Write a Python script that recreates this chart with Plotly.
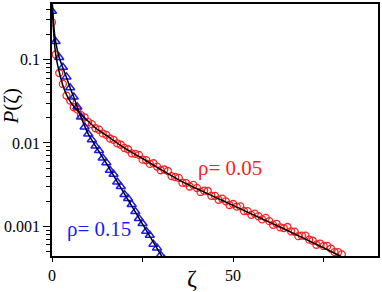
import plotly.graph_objects as go

# --- data ---
zeta_red = list(range(0, 81))
p_red = [0.28, 0.115, 0.069, 0.051, 0.037, 0.0322, 0.0268, 0.0251, 0.0216, 0.0203,
         0.0178, 0.0168, 0.0150, 0.0144, 0.0130, 0.0125, 0.0113, 0.0109, 0.0099, 0.0095,
         0.0087, 0.0084, 0.0075, 0.0074, 0.0072, 0.0063, 0.0062, 0.0056, 0.0057, 0.0052,
         0.0047, 0.0048, 0.0046, 0.0040, 0.0039, 0.0038, 0.00333, 0.0033, 0.0030, 0.00313,
         0.00288, 0.00258, 0.00267, 0.00265, 0.00232, 0.00231, 0.00208, 0.00214, 0.00199, 0.00180,
         0.00185, 0.00172, 0.00173, 0.00152, 0.00152, 0.00137, 0.00142, 0.00132, 0.00121, 0.00126,
         0.00115, 0.00104, 0.00107, 0.00097, 0.00095, 0.00098, 0.00087, 0.00086, 0.00076, 0.00077,
         0.00077, 0.00069, 0.00067, 0.00060, 0.00062, 0.00058, 0.00058, 0.00054, 0.00049, 0.00049,
         0.00046]

zeta_blue = list(range(0, 32))
p_blue = [0.38, 0.165, 0.106, 0.081, 0.062, 0.046, 0.0355, 0.027, 0.0205, 0.0155,
          0.0128, 0.0109, 0.0092, 0.0081, 0.0066, 0.0058, 0.0047, 0.0042, 0.0034, 0.0030,
          0.0024, 0.00215, 0.00182, 0.00150, 0.00124, 0.00108, 0.00087, 0.00078, 0.00061, 0.00055,
          0.00045, 0.00040]

fit_red_x = [0, 0.5, 1, 1.5, 2, 3, 4, 5, 6, 8, 10, 12, 15, 20, 25, 30, 35, 40, 45, 50,
             55, 60, 65, 70, 75, 80, 82]
fit_red_y = [0.50, 0.20, 0.118, 0.088, 0.071, 0.049, 0.038, 0.0316, 0.0275, 0.0219,
             0.0182, 0.0151, 0.0123, 0.0087, 0.0065, 0.0048, 0.0036, 0.00282, 0.00224, 0.00178,
             0.00141, 0.00112, 0.00089, 0.00070, 0.00055, 0.00043, 0.00039]

fit_blue_x = [0, 0.5, 1, 2, 3, 4, 5, 6, 7, 8, 9, 10, 12, 15, 20, 25, 30, 32]
fit_blue_y = [0.55, 0.25, 0.165, 0.105, 0.080, 0.061, 0.046, 0.0355, 0.027, 0.0205,
              0.0160, 0.0128, 0.0092, 0.0057, 0.00245, 0.00106, 0.00046, 0.00033]

y_tick_vals = [0.001, 0.01, 0.1]
y_tick_text = ["0.001", "0.01", "0.1"]
y_minor_vals = [0.0005, 0.0006, 0.0007, 0.0008, 0.0009,
                0.002, 0.003, 0.004, 0.005, 0.006, 0.007, 0.008, 0.009,
                0.02, 0.03, 0.04, 0.05, 0.06, 0.07, 0.08, 0.09,
                0.2, 0.3, 0.4]
x_tick_vals = [0, 50]
x_tick_text = ["0", "50"]
x_minor_vals = [25, 75]

label_red = "ρ= 0.05"
label_blue = "ρ= 0.15"

SERIF = "Liberation Serif"

fig = go.Figure()
fig.add_trace(go.Scatter(x=zeta_red, y=p_red, mode="markers",
                         marker=dict(symbol="circle-open", size=7, color="#ff2020",
                                     line=dict(width=1.3, color="#ff2020")),
                         showlegend=False))
fig.add_trace(go.Scatter(x=zeta_blue, y=p_blue, mode="markers",
                         marker=dict(symbol="triangle-up-open", size=8, color="#1a1aff",
                                     line=dict(width=1.5, color="#1a1aff")),
                         showlegend=False))
fig.add_trace(go.Scatter(x=fit_red_x, y=fit_red_y, mode="lines",
                         line=dict(color="black", width=1.5, shape="spline", smoothing=0.6),
                         showlegend=False))
fig.add_trace(go.Scatter(x=fit_blue_x, y=fit_blue_y, mode="lines",
                         line=dict(color="black", width=1.5, shape="spline", smoothing=0.6),
                         showlegend=False))

fig.update_layout(
    width=382, height=292,
    margin=dict(l=52, r=2, t=2, b=36),
    paper_bgcolor="white", plot_bgcolor="white",
    font=dict(family=SERIF, size=16, color="black"),
    xaxis=dict(range=[0, 90], showgrid=False, zeroline=False,
               showline=True, linecolor="black", linewidth=1.5, mirror=True,
               tickmode="array", tickvals=x_tick_vals, ticktext=x_tick_text,
               ticks="outside", ticklen=4, tickwidth=1, tickcolor="black",
               minor=dict(tickmode="array", tickvals=x_minor_vals, ticks="outside",
                          ticklen=4, tickwidth=1, tickcolor="black", showgrid=False),
               tickfont=dict(family=SERIF, size=16)),
    yaxis=dict(type="log", range=[-3.357, -0.333], showgrid=False, zeroline=False,
               showline=True, linecolor="black", linewidth=1.5, mirror=True,
               tickmode="array", tickvals=y_tick_vals, ticktext=y_tick_text,
               ticks="outside", ticklen=7, tickwidth=1, tickcolor="black",
               minor=dict(tickmode="array", tickvals=y_minor_vals, ticks="outside",
                          ticklen=4, tickwidth=1, tickcolor="black", showgrid=False),
               tickfont=dict(family=SERIF, size=16)),
)

fig.add_annotation(x=0.43, y=-0.087, xref="paper", yref="paper", text="ζ",
                   showarrow=False, xanchor="center", yanchor="middle",
                   font=dict(family=SERIF, size=24, color="black"))
fig.add_annotation(x=-0.125, y=0.594, xref="paper", yref="paper", text="<i>P</i>(ζ)",
                   showarrow=False, xanchor="center", yanchor="middle", textangle=-90,
                   font=dict(family=SERIF, size=21, color="black"))
fig.add_annotation(x=0.546, y=0.350, xref="paper", yref="paper", text=label_red,
                   showarrow=False, xanchor="center", yanchor="middle",
                   font=dict(family=SERIF, size=21, color="#ff2020"))
fig.add_annotation(x=0.143, y=0.106, xref="paper", yref="paper", text=label_blue,
                   showarrow=False, xanchor="center", yanchor="middle",
                   font=dict(family=SERIF, size=21, color="#1a1aff"))

fig.write_html("out.html",
               config={"displayModeBar": False},
               post_script="document.body.style.margin='0px';"
                           "document.body.style.overflow='hidden';")
